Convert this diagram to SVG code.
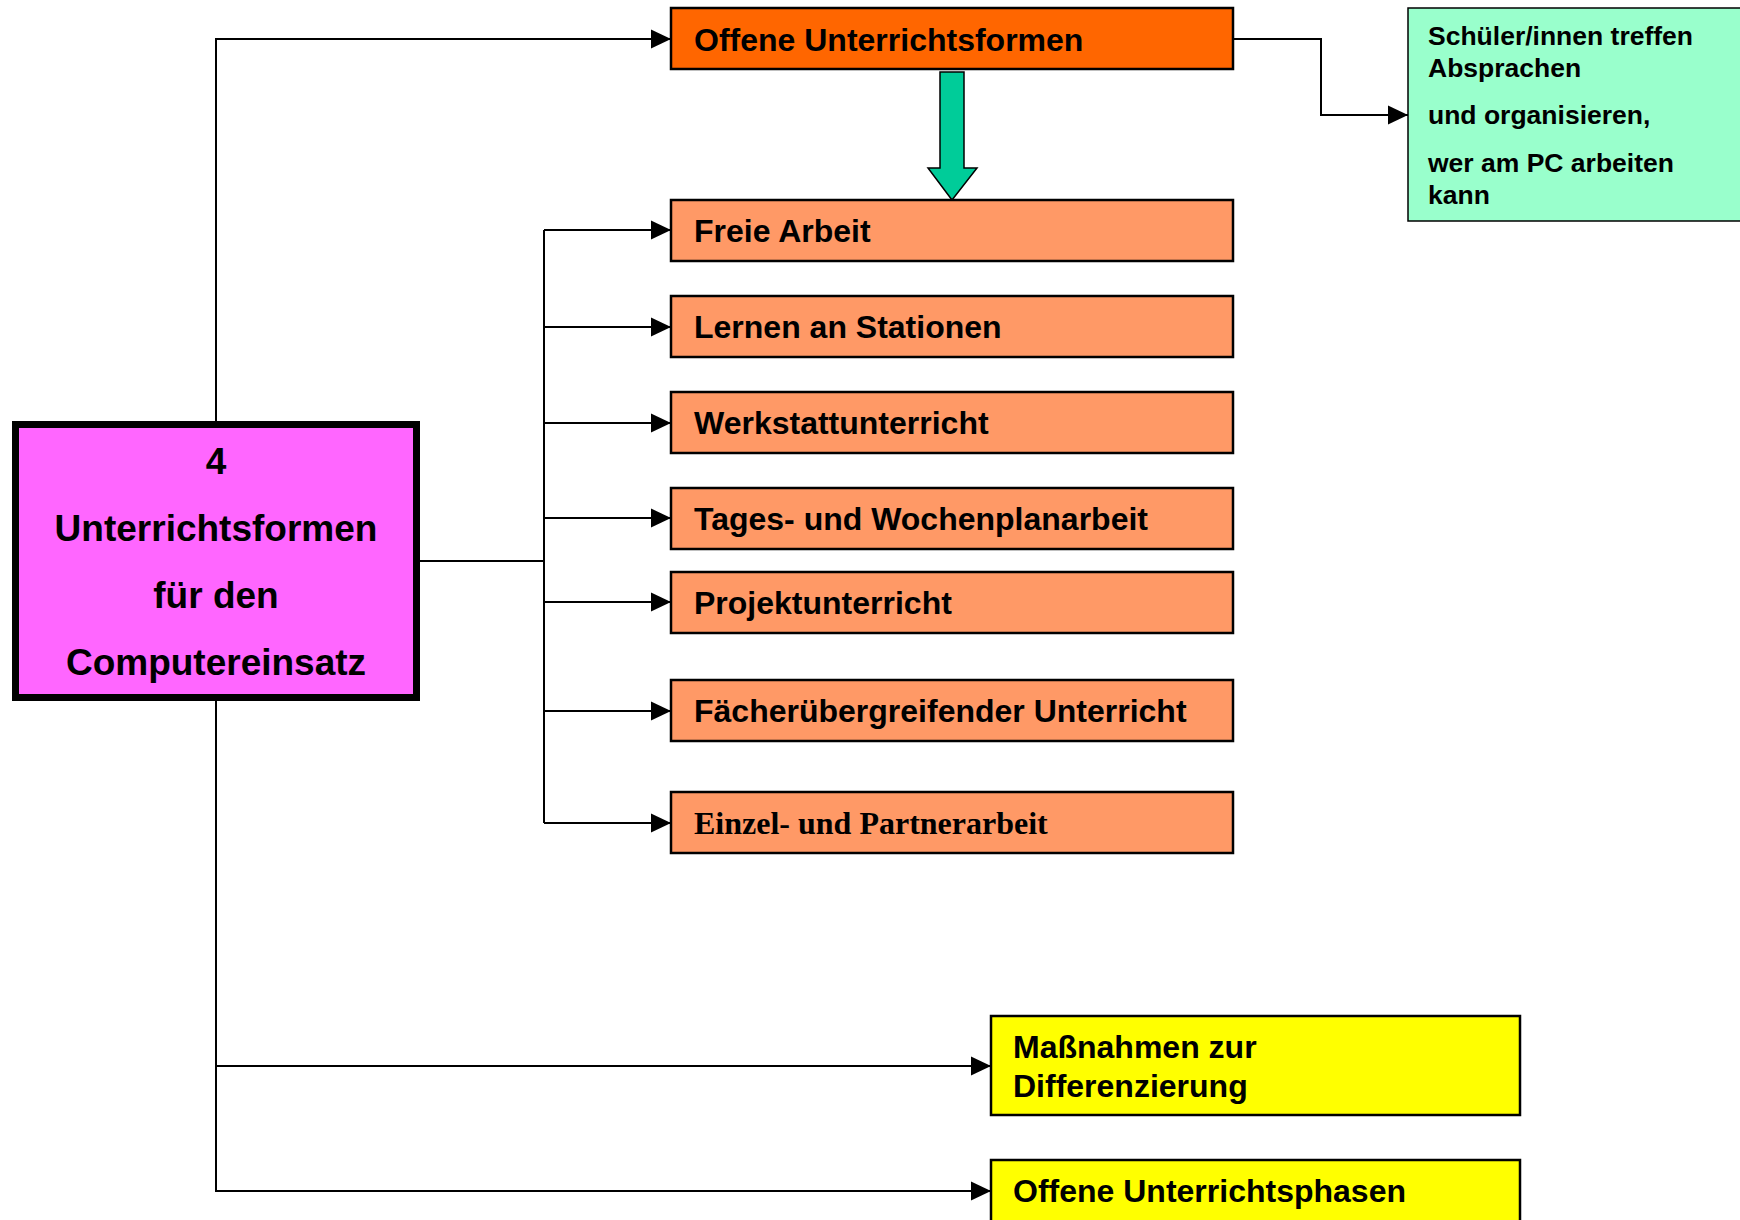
<svg xmlns="http://www.w3.org/2000/svg" width="1740" height="1220" viewBox="0 0 1740 1220">
  <style>
    .box { stroke: #000; stroke-width: 2.5; }
    .lbl { font-family: "Liberation Sans", Arial, sans-serif; font-weight: bold; font-size: 32px; fill: #000; }
    .serif { font-family: "Liberation Serif", "Times New Roman", serif; font-weight: bold; font-size: 32px; fill: #000; }
    .main { font-family: "Liberation Sans", Arial, sans-serif; font-weight: bold; font-size: 37px; fill: #000; text-anchor: middle; }
    .note { font-family: "Liberation Sans", Arial, sans-serif; font-weight: bold; font-size: 26.5px; fill: #000; }
    .conn { fill: none; stroke: #000; stroke-width: 2; }
    .sub { fill: #FF9966; }
  </style>
  <defs>
    <marker id="arrow" markerUnits="userSpaceOnUse" markerWidth="20" markerHeight="20" refX="20" refY="10" orient="auto">
      <path d="M0,0.5 L20,10 L0,19.5 z" fill="#000"/>
    </marker>
  </defs>
  <rect width="1740" height="1220" fill="#fff"/>

  <g id="connectors">
    <polyline class="conn" points="216,421 216,39 671,39" marker-end="url(#arrow)"/>
    <polyline class="conn" points="420,561 544,561"/>
    <line class="conn" x1="544" y1="230" x2="544" y2="823"/>
    <polyline class="conn" points="544,230 671,230" marker-end="url(#arrow)"/>
    <polyline class="conn" points="544,327 671,327" marker-end="url(#arrow)"/>
    <polyline class="conn" points="544,423 671,423" marker-end="url(#arrow)"/>
    <polyline class="conn" points="544,518 671,518" marker-end="url(#arrow)"/>
    <polyline class="conn" points="544,602 671,602" marker-end="url(#arrow)"/>
    <polyline class="conn" points="544,711 671,711" marker-end="url(#arrow)"/>
    <polyline class="conn" points="544,823 671,823" marker-end="url(#arrow)"/>
    <polyline class="conn" points="216,701 216,1191 991,1191" marker-end="url(#arrow)"/>
    <polyline class="conn" points="216,1066 991,1066" marker-end="url(#arrow)"/>
    <polyline class="conn" points="1233,39 1321,39 1321,115 1408,115" marker-end="url(#arrow)"/>
    <polygon points="940,72 964,72 964,168 977,168 952,200 928,168 940,168" fill="#00CC99" stroke="#000" stroke-width="1.5"/>
  </g>

  <g id="node-main">
    <rect x="15.5" y="424.5" width="401" height="273" fill="#FF66FF" stroke="#000" stroke-width="7"/>
    <text class="main" x="216" y="474">4</text>
    <text class="main" x="216" y="541">Unterrichtsformen</text>
    <text class="main" x="216" y="608">für den</text>
    <text class="main" x="216" y="675">Computereinsatz</text>
  </g>

  <g id="node-offene">
    <rect class="box" x="671" y="8" width="562" height="61" fill="#FF6600"/>
    <text class="lbl" x="694" y="51">Offene Unterrichtsformen</text>
  </g>

  <g id="node-freie">
    <rect class="box sub" x="671" y="200" width="562" height="61"/>
    <text class="lbl" x="694" y="242">Freie Arbeit</text>
  </g>

  <g id="node-lernen">
    <rect class="box sub" x="671" y="296" width="562" height="61"/>
    <text class="lbl" x="694" y="338">Lernen an Stationen</text>
  </g>

  <g id="node-werkstatt">
    <rect class="box sub" x="671" y="392" width="562" height="61"/>
    <text class="lbl" x="694" y="434">Werkstattunterricht</text>
  </g>

  <g id="node-tages">
    <rect class="box sub" x="671" y="488" width="562" height="61"/>
    <text class="lbl" x="694" y="530">Tages- und Wochenplanarbeit</text>
  </g>

  <g id="node-projekt">
    <rect class="box sub" x="671" y="572" width="562" height="61"/>
    <text class="lbl" x="694" y="614">Projektunterricht</text>
  </g>

  <g id="node-faecher">
    <rect class="box sub" x="671" y="680" width="562" height="61"/>
    <text class="lbl" x="694" y="722">Fächerübergreifender Unterricht</text>
  </g>

  <g id="node-einzel">
    <rect class="box sub" x="671" y="792" width="562" height="61"/>
    <text class="serif" x="694" y="834">Einzel- und Partnerarbeit</text>
  </g>

  <g id="node-absprachen">
    <rect x="1408" y="8" width="340" height="213" fill="#99FFCC" stroke="#000" stroke-width="1.5"/>
    <text class="note" x="1428" y="45">Schüler/innen treffen</text>
    <text class="note" x="1428" y="77">Absprachen</text>
    <text class="note" x="1428" y="124">und organisieren,</text>
    <text class="note" x="1428" y="172">wer am PC arbeiten</text>
    <text class="note" x="1428" y="204">kann</text>
  </g>

  <g id="node-massnahmen">
    <rect class="box" x="991" y="1016" width="529" height="99" fill="#FFFF00"/>
    <text class="lbl" x="1013" y="1058">Maßnahmen zur</text>
    <text class="lbl" x="1013" y="1097">Differenzierung</text>
  </g>

  <g id="node-phasen">
    <rect class="box" x="991" y="1160" width="529" height="80" fill="#FFFF00"/>
    <text class="lbl" x="1013" y="1202">Offene Unterrichtsphasen</text>
  </g>
</svg>
